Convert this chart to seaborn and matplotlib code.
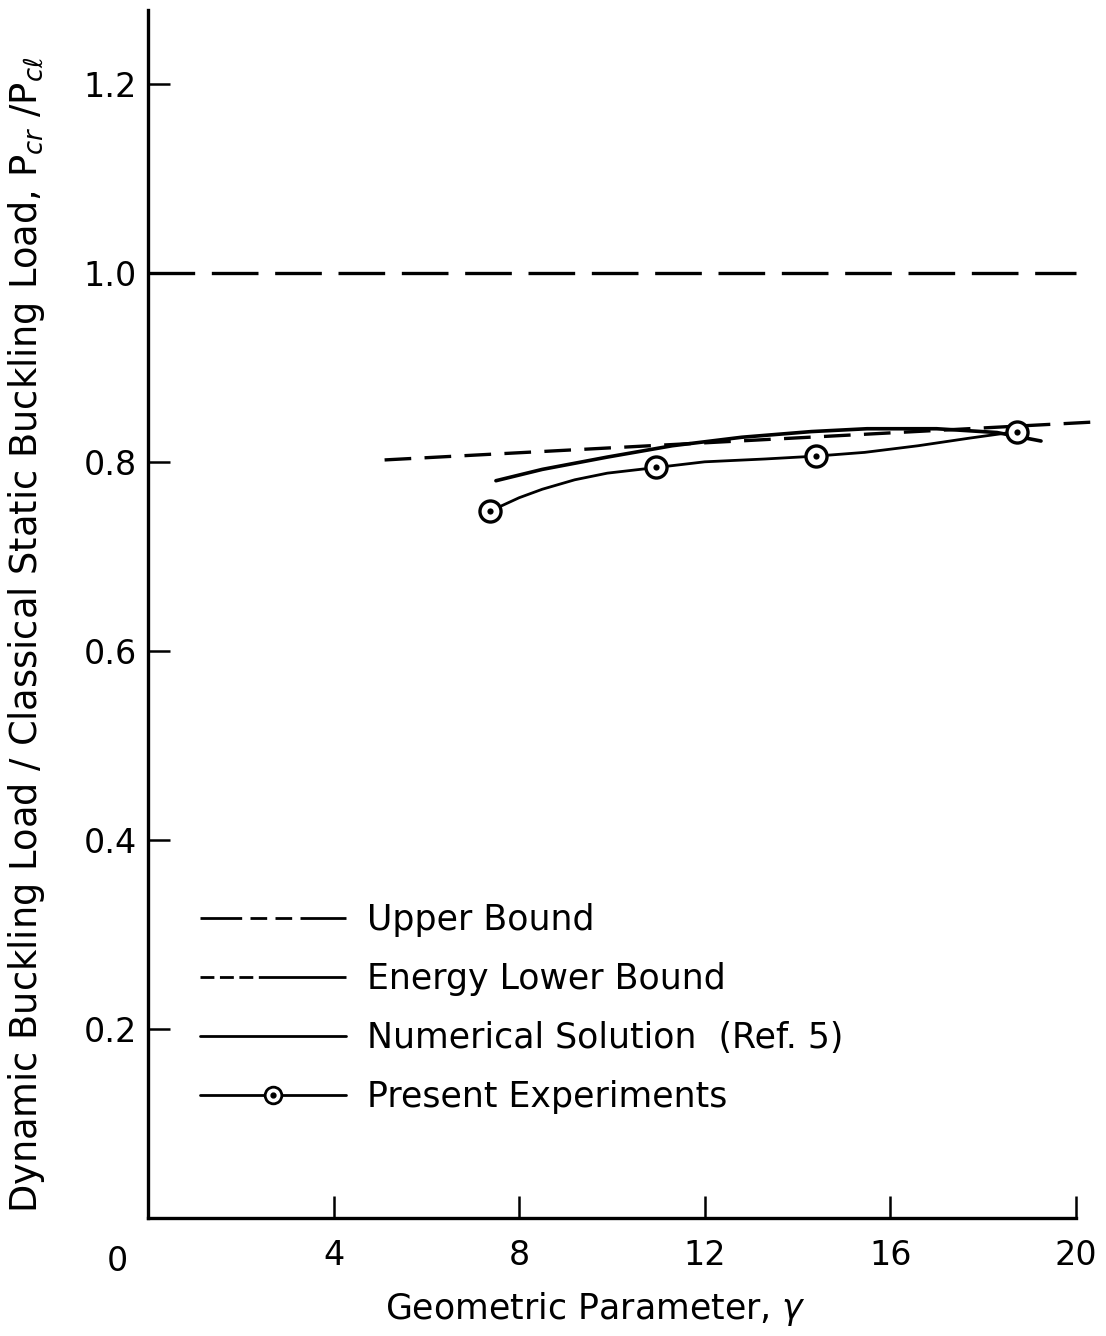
import numpy as np
import pandas as pd
import matplotlib
matplotlib.use("Agg")
import matplotlib.pyplot as plt
from matplotlib.lines import Line2D
from matplotlib.legend_handler import HandlerTuple
import seaborn as sns

# ---- data ----
upper_x = [0.0, 20.0]
upper_y = [1.0, 1.0]

energy_x = [5.1, 20.35]
energy_y = [0.802, 0.842]

numerical_x = [7.5, 8.5, 9.9, 11.3, 12.8, 14.3, 15.5, 17.0, 18.3, 19.25]
numerical_y = [0.780, 0.792, 0.805, 0.817, 0.826, 0.832, 0.835, 0.835, 0.831, 0.822]

exp_curve_x = [7.38, 8.0, 8.5, 9.2, 9.9, 10.96, 12.0, 13.3, 14.39, 15.45, 16.6, 17.7, 18.73]
exp_curve_y = [0.748, 0.762, 0.771, 0.781, 0.788, 0.794, 0.800, 0.803, 0.806, 0.810, 0.817, 0.825, 0.832]

exp_pts_x = [7.38, 10.96, 14.39, 18.73]
exp_pts_y = [0.748, 0.794, 0.806, 0.832]

xticks = [0, 4, 8, 12, 16, 20]
xtick_labels = ["", "4", "8", "12", "16", "20"]
yticks = [0.2, 0.4, 0.6, 0.8, 1.0, 1.2]
ytick_labels = ["0.2", "0.4", "0.6", "0.8", "1.0", "1.2"]

legend_labels = ["Upper Bound", "Energy Lower Bound", "Numerical Solution  (Ref. 5)", "Present Experiments"]

# ---- style ----
sns.set_theme(style="white")
plt.rcParams["font.family"] = ["DejaVu Sans"]
plt.rcParams["mathtext.fontset"] = "dejavusans"
plt.rcParams["text.color"] = "black"
plt.rcParams["axes.labelcolor"] = "black"

W, H = 1106, 1336
fig = plt.figure(figsize=(W / 100, H / 100), dpi=100)
ax_left = 148 / W
ax_bottom = 1 - 1218 / H
ax_right = 1099 / W
ax_top = 1 - 10 / H
ax = fig.add_axes([ax_left, ax_bottom, ax_right - ax_left, ax_top - ax_bottom])

lw = 2.4
sns.lineplot(x=upper_x, y=upper_y, ax=ax, color="black", lw=lw, estimator=None, sort=False)
ax.lines[-1].set_dashes((14, 5))
sns.lineplot(x=energy_x, y=energy_y, ax=ax, color="black", lw=lw, estimator=None, sort=False)
ax.lines[-1].set_dashes((8, 4))
sns.lineplot(x=numerical_x, y=numerical_y, ax=ax, color="black", lw=2.6, estimator=None, sort=False)
sns.lineplot(x=exp_curve_x, y=exp_curve_y, ax=ax, color="black", lw=2.0, estimator=None, sort=False)
sns.scatterplot(x=exp_pts_x, y=exp_pts_y, ax=ax, s=230, facecolor="white",
                edgecolor="black", linewidth=2.4, zorder=5)
sns.scatterplot(x=exp_pts_x, y=exp_pts_y, ax=ax, s=20, color="black",
                edgecolor="black", linewidth=0, zorder=6)

ax.set_xlim(0, 20.5)
ax.set_ylim(0, 1.278)
sns.despine(ax=ax)
ax.spines["bottom"].set_bounds(0, 20)
for s in ["left", "bottom"]:
    ax.spines[s].set_linewidth(2.4)
    ax.spines[s].set_color("black")

ax.set_xticks(xticks)
ax.set_xticklabels(xtick_labels)
ax.set_yticks(yticks)
ax.set_yticklabels(ytick_labels)
ax.tick_params(axis="both", which="major", direction="in", length=16, width=1.8,
               colors="black", labelcolor="black", labelsize=24,
               bottom=True, left=True, top=False, right=False)
ax.tick_params(axis="x", pad=15)
ax.tick_params(axis="y", pad=8)

# origin label placed below-left of the corner
ax.annotate("0", xy=(0, 0), xycoords="axes fraction", xytext=(-22, -31),
            textcoords="offset points", ha="center", va="center", fontsize=24)

ax.set_xlabel(r"Geometric Parameter, $\gamma$", fontsize=25)
ax.xaxis.set_label_coords(0.471, -0.06)
ax.set_ylabel(r"Dynamic Buckling Load / Classical Static Buckling Load, P$_{cr}$ /P$_{c\ell}$",
              fontsize=26.5)
ax.yaxis.set_label_coords(-0.106, 0.483)

# legend
h_upper = Line2D([], [], color="black", lw=2.0, dashes=(15, 3, 6, 3, 6, 3, 16, 0))
h_energy = Line2D([], [], color="black", lw=2.0, dashes=(5, 2, 5, 2, 5, 2, 31, 0))
h_num = Line2D([], [], color="black", lw=2.0)
h_exp = Line2D([], [], color="black", lw=2.0, marker="o", markersize=12,
               markerfacecolor="white", markeredgecolor="black", markeredgewidth=2.0)
h_dot = Line2D([], [], color="black", lw=0, marker="o", markersize=3.5)
leg = ax.legend([h_upper, h_energy, h_num, (h_exp, h_dot)], legend_labels,
                handler_map={tuple: HandlerTuple(ndivide=1)},
                loc="upper left", bbox_to_anchor=(0.0547, 0.2605), frameon=False,
                fontsize=25, handlelength=4.2, handletextpad=0.6, labelspacing=0.72,
                borderpad=0, borderaxespad=0)
for t in leg.get_texts():
    t.set_color("black")

fig.savefig("out.png", dpi=100)
